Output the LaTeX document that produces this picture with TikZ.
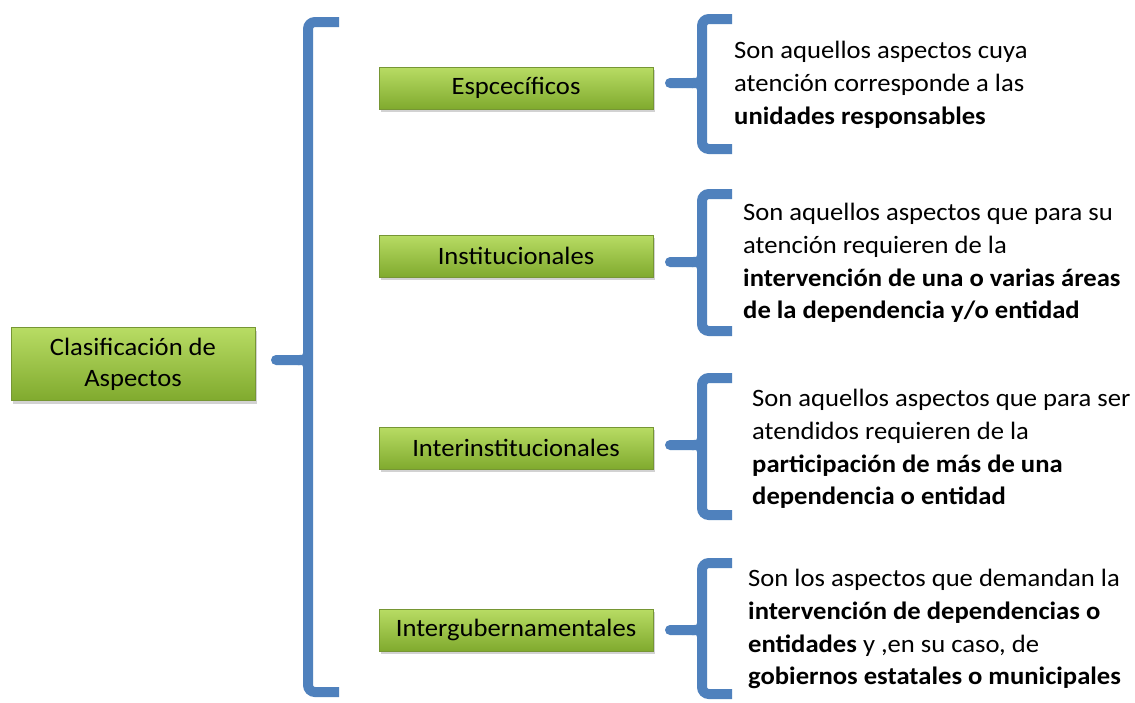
\documentclass[tikz,border=0pt]{standalone}
\usepackage{fontspec}
\setmainfont{Carlito}[FakeStretch=1.065]
\usetikzlibrary{shadows}
\definecolor{bracecol}{RGB}{79,129,189}
\definecolor{gtop}{RGB}{184,220,100}
\definecolor{gbot}{RGB}{128,170,46}
\definecolor{gdraw}{RGB}{118,150,52}
\tikzset{
  greenbox/.style={draw=gdraw, line width=0.8pt, top color=gtop, bottom color=gbot,
    drop shadow={shadow xshift=2pt, shadow yshift=-3pt, opacity=0.35},
    minimum width=274pt, minimum height=42pt, inner sep=0pt,
    font=\fontsize{25}{31}\selectfont, align=center},
  bracearm/.style={draw=bracecol, line width=10pt, line cap=butt, rounded corners=7pt},
  bracetip/.style={draw=bracecol, line width=10pt, line cap=round},
  desc/.style={anchor=north west, inner sep=0pt, align=left,
    font=\fontsize{25}{32.8}\selectfont}
}
\begin{document}
\begin{tikzpicture}[x=1pt,y=-1pt]
\useasboundingbox[fill=white] (0,0) rectangle (1135,702);

% main node
\node[greenbox, minimum width=244pt, minimum height=73pt] (main) at (133,364) {Clasificación de\\Aspectos};

% category nodes
\node[greenbox] (esp) at (516,88) {\raisebox{-2pt}{Espcecíficos}};
\node[greenbox] (ins) at (516,256) {\raisebox{-1pt}{Institucionales}};
\node[greenbox] (inter) at (516,448) {\raisebox{-1pt}{Interinstitucionales}};
\node[greenbox] (gub) at (516,630) {\raisebox{-1pt}{Intergubernamentales}};

% big brace
\coordinate (bt) at (339,22);
\coordinate (bb) at (339,692);
\coordinate (btip) at (276,360);
\draw[bracearm] (bt) -- (308,22) -- (308,692) -- (bb);
\draw[bracetip] (btip) -- (298,360) .. controls (306,360) .. (308,354);
\draw[bracetip] (298,360) .. controls (306,360) .. (308,366);

% small braces
\foreach \n/\t/\m/\b in {a/19/83/149, b/194/262/331, c/378/445/515, d/563/630/694}{
  \coordinate (t\n) at (732,\t);
  \coordinate (b\n) at (732,\b);
  \coordinate (m\n) at (670,\m);
  \draw[bracearm] (t\n) -- (702,\t) -- (702,\b) -- (b\n);
  \draw[bracetip] (m\n) -- (692,\m) .. controls (700,\m) .. (702,\m-6);
  \draw[bracetip] (692,\m) .. controls (700,\m) .. (702,\m+6);
}

% descriptions
\node[desc] (da) at (734,41) {Son aquellos aspectos cuya\\atención corresponde a las\\\textbf{unidades responsables}};
\node[desc] (db) at (743,203) {Son aquellos aspectos que para su\\atención requieren de la\\\textbf{intervención de una o varias áreas}\\\textbf{de la dependencia y/o entidad}};
\node[desc] (dc) at (752,389) {Son aquellos aspectos que para ser\\atendidos requieren de la\\\textbf{participación de más de una}\\\textbf{dependencia o entidad}};
\node[desc] (dd) at (748,569) {Son los aspectos que demandan la\\\textbf{intervención de dependencias o}\\\textbf{entidades} y ,en su caso, de\\\textbf{gobiernos estatales o municipales}};
\end{tikzpicture}
\end{document}
